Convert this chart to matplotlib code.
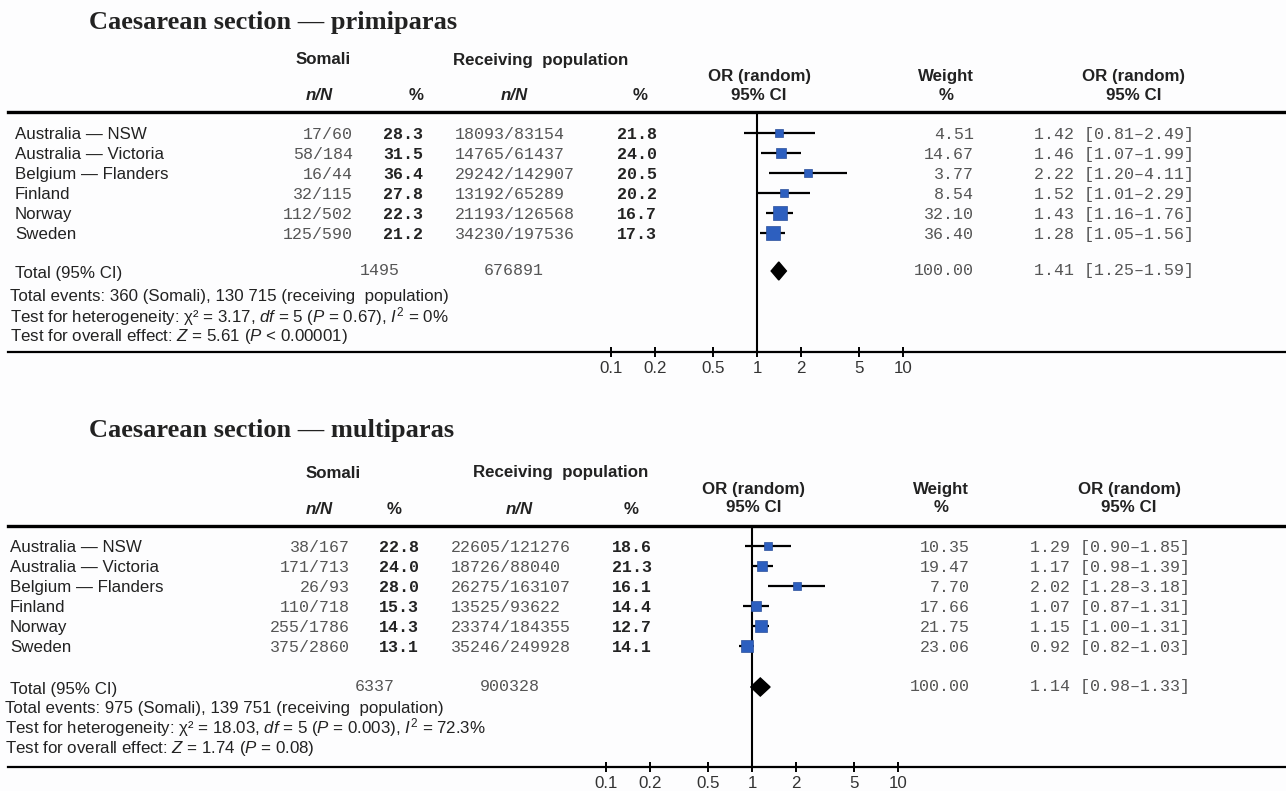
import numpy as np
import matplotlib
matplotlib.use("Agg")
import matplotlib.pyplot as plt
from matplotlib import transforms

# ---------------- data ----------------
countries = ["Australia — NSW", "Australia — Victoria", "Belgium — Flanders",
             "Finland", "Norway", "Sweden"]

prim_somali_nN = ["17/60", "58/184", "16/44", "32/115", "112/502", "125/590"]
prim_somali_pct = ["28.3", "31.5", "36.4", "27.8", "22.3", "21.2"]
prim_recv_nN = ["18093/83154", "14765/61437", "29242/142907", "13192/65289",
                "21193/126568", "34230/197536"]
prim_recv_pct = ["21.8", "24.0", "20.5", "20.2", "16.7", "17.3"]
prim_weight = [4.51, 14.67, 3.77, 8.54, 32.10, 36.40]
prim_or = [1.42, 1.46, 2.22, 1.52, 1.43, 1.28]
prim_lo = [0.81, 1.07, 1.20, 1.01, 1.16, 1.05]
prim_hi = [2.49, 1.99, 4.11, 2.29, 1.76, 1.56]
prim_total_n = ["1495", "676891"]
prim_total_or = [1.41, 1.25, 1.59]
prim_notes = [
    "Total events: 360 (Somali), 130 715 (receiving  population)",
    "Test for heterogeneity: χ² = 3.17, $df$ = 5 ($P$ = 0.67), $I^2$ = 0%",
    "Test for overall effect: $Z$ = 5.61 ($P$ < 0.00001)",
]

multi_somali_nN = ["38/167", "171/713", "26/93", "110/718", "255/1786", "375/2860"]
multi_somali_pct = ["22.8", "24.0", "28.0", "15.3", "14.3", "13.1"]
multi_recv_nN = ["22605/121276", "18726/88040", "26275/163107", "13525/93622",
                 "23374/184355", "35246/249928"]
multi_recv_pct = ["18.6", "21.3", "16.1", "14.4", "12.7", "14.1"]
multi_weight = [10.35, 19.47, 7.70, 17.66, 21.75, 23.06]
multi_or = [1.29, 1.17, 2.02, 1.07, 1.15, 0.92]
multi_lo = [0.90, 0.98, 1.28, 0.87, 1.00, 0.82]
multi_hi = [1.85, 1.39, 3.18, 1.31, 1.31, 1.03]
multi_total_n = ["6337", "900328"]
multi_total_or = [1.14, 0.98, 1.33]
multi_notes = [
    "Total events: 975 (Somali), 139 751 (receiving  population)",
    "Test for heterogeneity: χ² = 18.03, $df$ = 5 ($P$ = 0.003), $I^2$ = 72.3%",
    "Test for overall effect: $Z$ = 1.74 ($P$ = 0.08)",
]

tick_vals = [0.1, 0.2, 0.5, 1, 2, 5, 10]
tick_labels = ["0.1", "0.2", "0.5", "1", "2", "5", "10"]

# ---------------- style ----------------
plt.rcParams["mathtext.fontset"] = "custom"
plt.rcParams["mathtext.rm"] = "Liberation Sans"
plt.rcParams["mathtext.it"] = "Liberation Sans:italic"
plt.rcParams["mathtext.bf"] = "Liberation Sans:bold"

SANS = "Liberation Sans"
MONO = "Liberation Mono"
SERIF = "Liberation Serif"
TXT = "#222222"
NUMC = "#555555"
BLUE = "#2d5fbf"
FS = 12.2      # sans text size
MFS = 12       # mono size

W, H = 1286, 791
fig = plt.figure(figsize=(W / 100, H / 100), dpi=100)
fig.patch.set_facecolor("#fdfdfe")


def fx(px):
    return px / W


def fy(py):
    return 1 - py / H


def panel(title, s_nN, s_pct, r_nN, r_pct, weight, orv, lo, hi, tot_n, tot_or,
          notes, L):
    top, bot = L["rule"], L["axis"]
    left_px, right_px = 8, W
    ax = fig.add_axes([fx(left_px), fy(bot), fx(right_px - left_px),
                       (bot - top) / H])
    ax.set_facecolor("none")
    ax.set_xscale("log")
    dec = 146.0
    ax.set_xlim(10 ** ((left_px - L["x1"]) / dec), 10 ** ((right_px - L["x1"]) / dec))
    r0, st = L["row0"], L["step"]
    ax.set_ylim((bot - r0) / st, (top - r0) / st)
    for s in ["left", "right"]:
        ax.spines[s].set_visible(False)
    ax.spines["top"].set_linewidth(2.4)
    ax.spines["bottom"].set_linewidth(1.6)
    ax.set_yticks([])
    ax.set_xticks(tick_vals)
    ax.set_xticklabels(tick_labels)
    ax.xaxis.set_minor_locator(matplotlib.ticker.NullLocator())
    ax.tick_params(axis="x", direction="inout", length=7, width=1.4,
                   pad=3, labelsize=FS, labelcolor="#333333")
    for t in ax.get_xticklabels():
        t.set_fontfamily(SANS)
    ax.axvline(1, color="black", lw=1.5, zorder=1)

    rows = np.arange(len(orv))
    tot_y = (L["total"] - r0) / st
    err = np.array([np.array(orv) - np.array(lo), np.array(hi) - np.array(orv)])
    ax.errorbar(orv, rows, xerr=err, fmt="none", ecolor="black", elinewidth=1.6,
                capsize=0, zorder=2)
    sizes = (6.5 + 0.22 * np.array(weight)) * 0.72
    for x, y, s in zip(orv, rows, sizes):
        ax.plot([x], [y], marker="s", ms=s, color=BLUE, mec="#2a4f9a", mew=0.5,
                zorder=3)
    est, dlo, dhi = tot_or
    ax.fill([dlo, est, dhi, est], [tot_y, tot_y - 0.45, tot_y, tot_y + 0.45],
            color="black", zorder=3)

    tr = transforms.blended_transform_factory(fig.transFigure, ax.transData)
    dy = 0.08
    for i in rows:
        y = i + dy
        fig.text(fx(L["lab"]), y, countries[i], transform=tr, ha="left", va="center",
                 family=SANS, fontsize=FS, color=TXT)
        fig.text(fx(L["snN"]), y, s_nN[i], transform=tr, ha="right", va="center",
                 family=MONO, fontsize=MFS, color=NUMC)
        fig.text(fx(L["spct"]), y, s_pct[i], transform=tr, ha="right", va="center",
                 family=MONO, fontsize=MFS, color=TXT, weight="bold")
        fig.text(fx(L["rnN"]), y, r_nN[i], transform=tr, ha="left", va="center",
                 family=MONO, fontsize=MFS, color=NUMC)
        fig.text(fx(L["rpct"]), y, r_pct[i], transform=tr, ha="right", va="center",
                 family=MONO, fontsize=MFS, color=TXT, weight="bold")
        fig.text(fx(L["w"]), y, f"{weight[i]:.2f}", transform=tr, ha="right",
                 va="center", family=MONO, fontsize=MFS, color=NUMC)
        fig.text(fx(L["ci"]), y, f"{orv[i]:.2f} [{lo[i]:.2f}\u2013{hi[i]:.2f}]",
                 transform=tr, ha="left", va="center", family=MONO, fontsize=MFS,
                 color=NUMC)
    ty = tot_y + dy
    fig.text(fx(L["lab"]), ty + 0.05, "Total (95% CI)", transform=tr, ha="left",
             va="center", family=SANS, fontsize=FS, color=TXT)
    fig.text(fx(L["totS"]), ty - 0.1, tot_n[0], transform=tr, ha="center", va="center",
             family=MONO, fontsize=MFS, color=NUMC)
    fig.text(fx(L["totR"]), ty - 0.1, tot_n[1], transform=tr, ha="center", va="center",
             family=MONO, fontsize=MFS, color=NUMC)
    fig.text(fx(L["w"]), ty - 0.1, "100.00", transform=tr, ha="right", va="center",
             family=MONO, fontsize=MFS, color=NUMC)
    fig.text(fx(L["ci"]), ty - 0.1, f"{est:.2f} [{dlo:.2f}\u2013{dhi:.2f}]",
             transform=tr, ha="left", va="center", family=MONO, fontsize=MFS,
             color=NUMC)
    for k, n in enumerate(notes):
        fig.text(fx(L["lab"] - 5), fy(L["notes"][k]), n, ha="left", va="center",
                 family=SANS, fontsize=FS, color=TXT)

    fig.text(fx(L["title_x"]), fy(L["title_y"]), title, ha="left", va="center",
             family=SERIF, weight="bold", fontsize=19, color=TXT)
    hk = dict(ha="center", va="center", family=SANS, weight="bold",
              fontsize=FS, color=TXT)
    fig.text(fx(L["hS"]), fy(L["h1"]), "Somali", **hk)
    fig.text(fx(L["hR"]), fy(L["h1"]), "Receiving  population", **hk)
    fig.text(fx(L["hsn"]), fy(L["h3"]), "n/N", style="italic", **hk)
    fig.text(fx(L["hsp"]), fy(L["h3"]), "%", **hk)
    fig.text(fx(L["hrn"]), fy(L["h3"]), "n/N", style="italic", **hk)
    fig.text(fx(L["hrp"]), fy(L["h3"]), "%", **hk)
    fig.text(fx(L["hOR"]), fy(L["h2"]), "OR (random)", **hk)
    fig.text(fx(L["hOR"]), fy(L["h3"] - 1), "95% CI", **hk)
    fig.text(fx(L["hW"]), fy(L["h2"]), "Weight", **hk)
    fig.text(fx(L["hW"]), fy(L["h3"] - 1), "%", **hk)
    fig.text(fx(L["hOR2"]), fy(L["h2"]), "OR (random)", **hk)
    fig.text(fx(L["hOR2"]), fy(L["h3"] - 1), "95% CI", **hk)
    return ax


L_top = dict(rule=112, axis=352, x1=757, row0=132.5, step=20.0, total=271,
             notes=[297, 317, 337], lab=15, snN=353, spct=423, rnN=455, rpct=657,
             w=974, ci=1034, totS=380, totR=514, title_x=89, title_y=22,
             h1=60, h2=76, h3=96, hS=323, hR=541, hsn=319, hsp=416, hrn=514,
             hrp=640, hOR=759, hW=946, hOR2=1134)
L_bot = dict(rule=526, axis=767, x1=752, row0=545.5, step=20.1, total=687,
             notes=[708, 728, 748], lab=10, snN=350, spct=419, rnN=451, rpct=652,
             w=970, ci=1030, totS=375, totR=510, title_x=89, title_y=430,
             h1=473, h2=490, h3=509, hS=333, hR=561, hsn=319, hsp=394, hrn=519,
             hrp=631, hOR=754, hW=941, hOR2=1129)

panel("Caesarean section — primiparas", prim_somali_nN, prim_somali_pct,
      prim_recv_nN, prim_recv_pct, prim_weight, prim_or, prim_lo, prim_hi,
      prim_total_n, prim_total_or, prim_notes, L_top)
panel("Caesarean section — multiparas", multi_somali_nN, multi_somali_pct,
      multi_recv_nN, multi_recv_pct, multi_weight, multi_or, multi_lo, multi_hi,
      multi_total_n, multi_total_or, multi_notes, L_bot)

fig.savefig("out.png", dpi=100, facecolor=fig.get_facecolor())
